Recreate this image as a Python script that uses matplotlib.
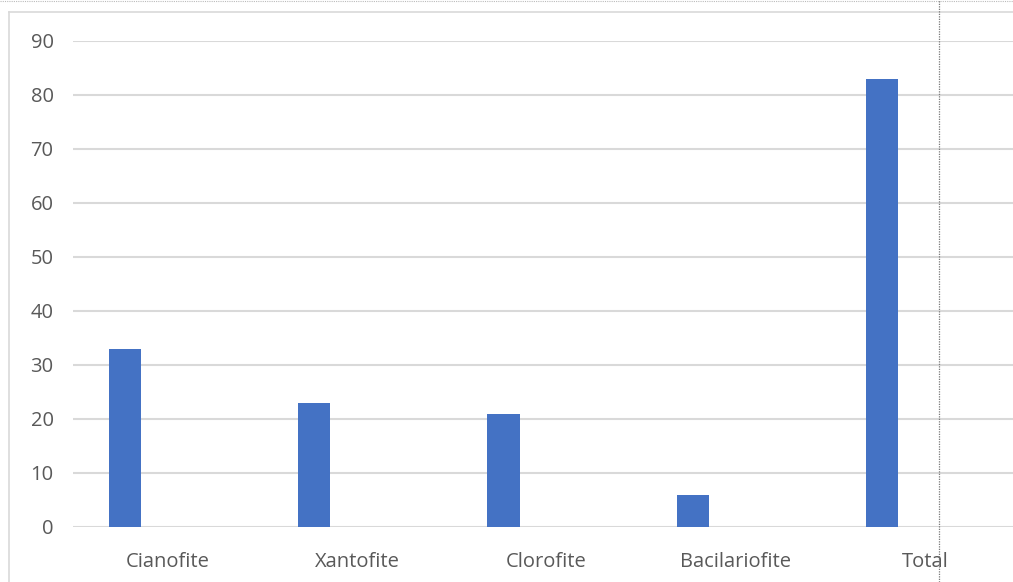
import matplotlib.pyplot as plt
import numpy as np
from matplotlib.lines import Line2D

categories = ["Cianofite", "Xantofite", "Clorofite", "Bacilariofite", "Total"]
values = [33, 23, 21, 6, 83]

plt.rcParams["font.family"] = ["Open Sans", "DejaVu Sans"]

fig = plt.figure(figsize=(10.13, 5.82), dpi=100)
W, H = 1013, 582
# plot area in pixels: x 73..1020, y 41..527
ax = fig.add_axes([73 / W, (H - 527) / H, (1020 - 73) / W, (527 - 41) / H])

x = np.arange(len(categories))
ax.bar(x - 0.227, values, width=0.17, color="#4472C4", zorder=3)

ax.set_xlim(-0.5, 4.5)
ax.set_ylim(0, 90)
ax.set_yticks(range(0, 100, 10))
ax.set_xticks(x)
ax.set_xticklabels(categories)
ax.yaxis.grid(True, color="#d9d9d9", linewidth=1.5, zorder=0)
ax.tick_params(axis="both", length=0, labelsize=14.5, labelcolor="#595959")
ax.tick_params(axis="y", pad=14)
ax.tick_params(axis="x", pad=18)
for s in ax.spines.values():
    s.set_visible(False)

# chart frame and sheet guides
fig.add_artist(Line2D([9 / W, 9 / W], [0, 1 - 12 / H], transform=fig.transFigure,
                      color="#d9d9d9", lw=1.2))
fig.add_artist(Line2D([9 / W, 1], [1 - 12 / H, 1 - 12 / H], transform=fig.transFigure,
                      color="#d9d9d9", lw=1.2))
fig.add_artist(Line2D([0, 1], [1 - 0.5 / H, 1 - 0.5 / H], transform=fig.transFigure,
                      color="#bbbbbb", lw=0.8, ls=(0, (1, 1))))
fig.add_artist(Line2D([939 / W, 939 / W], [0, 1], transform=fig.transFigure,
                      color="#777777", lw=0.9, ls=(0, (1, 1)), zorder=10))

fig.savefig("out.png", dpi=100)
